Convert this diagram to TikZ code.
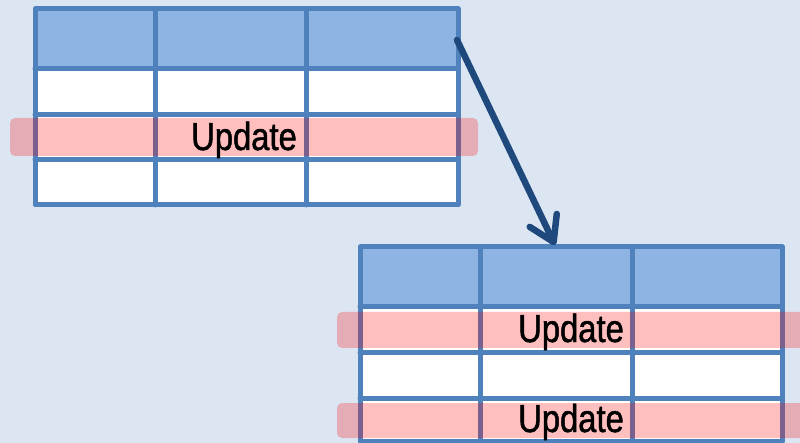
\documentclass[tikz,border=0pt]{standalone}
\usepackage{fontspec}
\setmainfont{Liberation Sans}[FakeStretch=0.84,FakeBold=1.2]
\usetikzlibrary{arrows.meta}
\definecolor{bgc}{RGB}{220,230,242}
\definecolor{hdr}{RGB}{142,180,227}
\definecolor{grid}{RGB}{79,129,189}
\definecolor{arr}{RGB}{31,73,125}
\tikzset{
  gridline/.style={draw=grid, line width=5pt, line join=round, line cap=round},
  band/.style={fill=red, fill opacity=0.25, rounded corners=5pt},
  lbl/.style={font=\fontsize{39}{42}\selectfont, anchor=base, inner sep=0pt, text=black},
  arrowline/.style={draw=arr, line width=6.5pt, line cap=round,
     -{Straight Barb[length=24pt, width=30pt, line cap=round, line join=round]}}
}
\begin{document}
\begin{tikzpicture}[x=1pt,y=-1pt]
\fill[bgc] (0,0) rectangle (800,443);
\useasboundingbox (0,0) rectangle (800,443);
% top table
\fill[white] (35,69) rectangle (458,205);
\fill[hdr] (35,9) rectangle (458,69);
\draw[gridline] (35,9) rectangle (458,205);
\draw[gridline] (35,69) -- (458,69) (35,115) -- (458,115) (35,160) -- (458,160)
  (155,9) -- (155,205) (306,9) -- (306,205);
\fill[band] (10,118) rectangle (478,156);
\node[lbl] (u1) at (244,150) {Update};
% bottom table
\fill[white] (360,307) rectangle (782,441);
\fill[hdr] (360,247) rectangle (782,307);
\draw[gridline] (360,247) rectangle (782,441);
\draw[gridline] (360,307) -- (782,307) (360,352) -- (782,352) (360,398) -- (782,398)
  (480,247) -- (480,441) (632,247) -- (632,441);
\fill[band] (337,312) rectangle (820,348);
\fill[band] (337,403) rectangle (820,438);
\node[lbl] (u2) at (571,342) {Update};
\node[lbl] (u3) at (571,432) {Update};
% arrow
\coordinate (a) at (457,40);
\coordinate (b) at (555,245);
\draw[arrowline] (a) -- (b);
\end{tikzpicture}
\end{document}
